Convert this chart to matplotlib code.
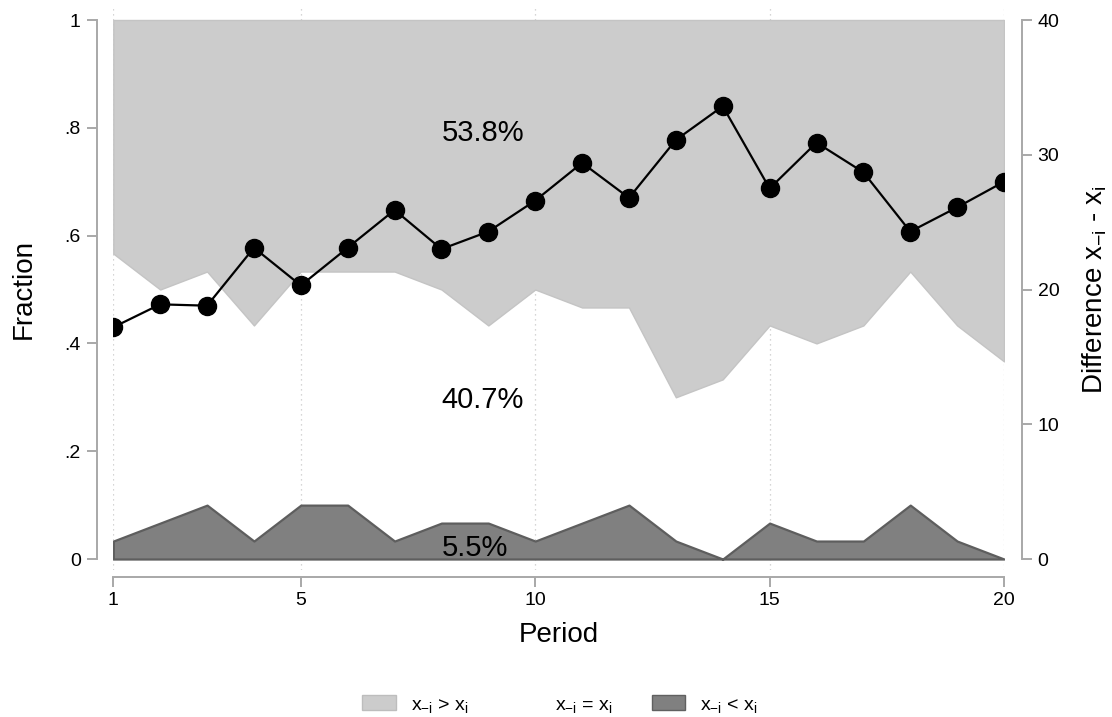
import matplotlib
matplotlib.use("Agg")
import matplotlib.pyplot as plt
import numpy as np
from matplotlib.patches import Patch

plt.rcParams['font.family'] = ['Liberation Sans', 'DejaVu Sans']
plt.rcParams['mathtext.default'] = 'regular'

# data (30 subjects per period)
periods = np.arange(1, 21)
n_subjects = 30
n_less = [1, 2, 3, 1, 3, 3, 1, 2, 2, 1, 2, 3, 1, 0, 2, 1, 1, 3, 1, 0]
n_less_equal = [17, 15, 16, 13, 16, 16, 16, 15, 13, 15, 14, 14, 9, 10, 13, 12, 13, 16, 13, 11]
diff = [17.2, 18.9, 18.8, 23.1, 20.3, 23.1, 25.9, 23.0, 24.3, 26.6,
        29.4, 26.8, 31.1, 33.6, 27.5, 30.9, 28.7, 24.3, 26.1, 28.0]
shares = ["53.8%", "40.7%", "5.5%"]
share_y = [0.79, 0.295, 0.02]

frac_less = np.array(n_less) / n_subjects
frac_le = np.array(n_less_equal) / n_subjects

light = '#cccccc'
dark = '#808080'
spine_c = '#a8a8a8'

fig = plt.figure(figsize=(11.12, 7.17), dpi=100)
ax = fig.add_axes([0.1019, 0.205, 0.801, 0.788])

ylo, yhi = -0.0204, 1.0278
ax.set_xlim(1, 20)
ax.set_ylim(ylo, yhi)

# areas
ax.fill_between(periods, frac_le, 1, facecolor=light, edgecolor='#c4c4c4', lw=1.0, zorder=2)
ax.fill_between(periods, 0, frac_less, facecolor=dark, edgecolor='#5e5e5e', lw=1.6, zorder=2)

for txt, yy in zip(shares, share_y):
    ax.text(8, yy, txt, fontsize=21, ha='left', va='center', zorder=3)

ax.set_xticks([1, 5, 10, 15, 20])
ax.set_yticks([0, .2, .4, .6, .8, 1])
ax.set_yticklabels(['0', '.2', '.4', '.6', '.8', '1'])
ax.grid(axis='x', color='#c8c8c8', linestyle=(0, (1, 3)), lw=0.9)
ax.set_axisbelow(True)

for s in ['top', 'right']:
    ax.spines[s].set_visible(False)
ax.spines['left'].set_position(('outward', 12))
ax.spines['left'].set_bounds(0, 1)
ax.spines['bottom'].set_position(('outward', 5.3))
ax.spines['bottom'].set_bounds(1, 20)
for s in ['left', 'bottom']:
    ax.spines[s].set_color(spine_c)
    ax.spines[s].set_linewidth(1.4)
ax.tick_params(axis='both', colors=spine_c, labelcolor='black', labelsize=14,
               length=7.5, width=1.4)
ax.tick_params(axis='y', pad=4)
ax.tick_params(axis='x', pad=3)

ax.set_ylabel('Fraction', fontsize=20)
ax.yaxis.set_label_coords(-0.0857, 0.4965)
ax.set_xlabel('Period', fontsize=20)
ax.xaxis.set_label_coords(0.5, -0.092)

# difference on right axis
ax2 = ax.twinx()
ax2.set_ylim(ylo * 40, yhi * 40)
ax2.plot(periods, diff, color='black', lw=1.6, marker='o', markersize=13, zorder=5)
ax2.set_yticks([0, 10, 20, 30, 40])
for s in ['top', 'left', 'bottom']:
    ax2.spines[s].set_visible(False)
ax2.spines['right'].set_position(('outward', 12.7))
ax2.spines['right'].set_bounds(0, 40)
ax2.spines['right'].set_color(spine_c)
ax2.spines['right'].set_linewidth(1.4)
ax2.tick_params(axis='y', colors=spine_c, labelcolor='black', labelsize=14,
                length=7.5, width=1.4, pad=4)
ax2.set_ylabel('Difference x$_{-i}$ - x$_i$', fontsize=20)
ax2.yaxis.set_label_coords(1.0853, 0.4965)

handles = [Patch(facecolor=light, edgecolor='#bdbdbd'),
           Patch(facecolor='white', edgecolor='white'),
           Patch(facecolor=dark, edgecolor='#606060')]
labels = ['x$_{-i}$ > x$_i$', 'x$_{-i}$ = x$_i$', 'x$_{-i}$ < x$_i$']
fig.legend(handles, labels, loc='center', bbox_to_anchor=(560 / 1112, 1 - 705 / 717),
           ncol=3, frameon=False, fontsize=14, handlelength=1.7, handleheight=0.82,
           handletextpad=0.77, columnspacing=2.0, borderpad=0.1)

fig.savefig('out.png', dpi=100)
